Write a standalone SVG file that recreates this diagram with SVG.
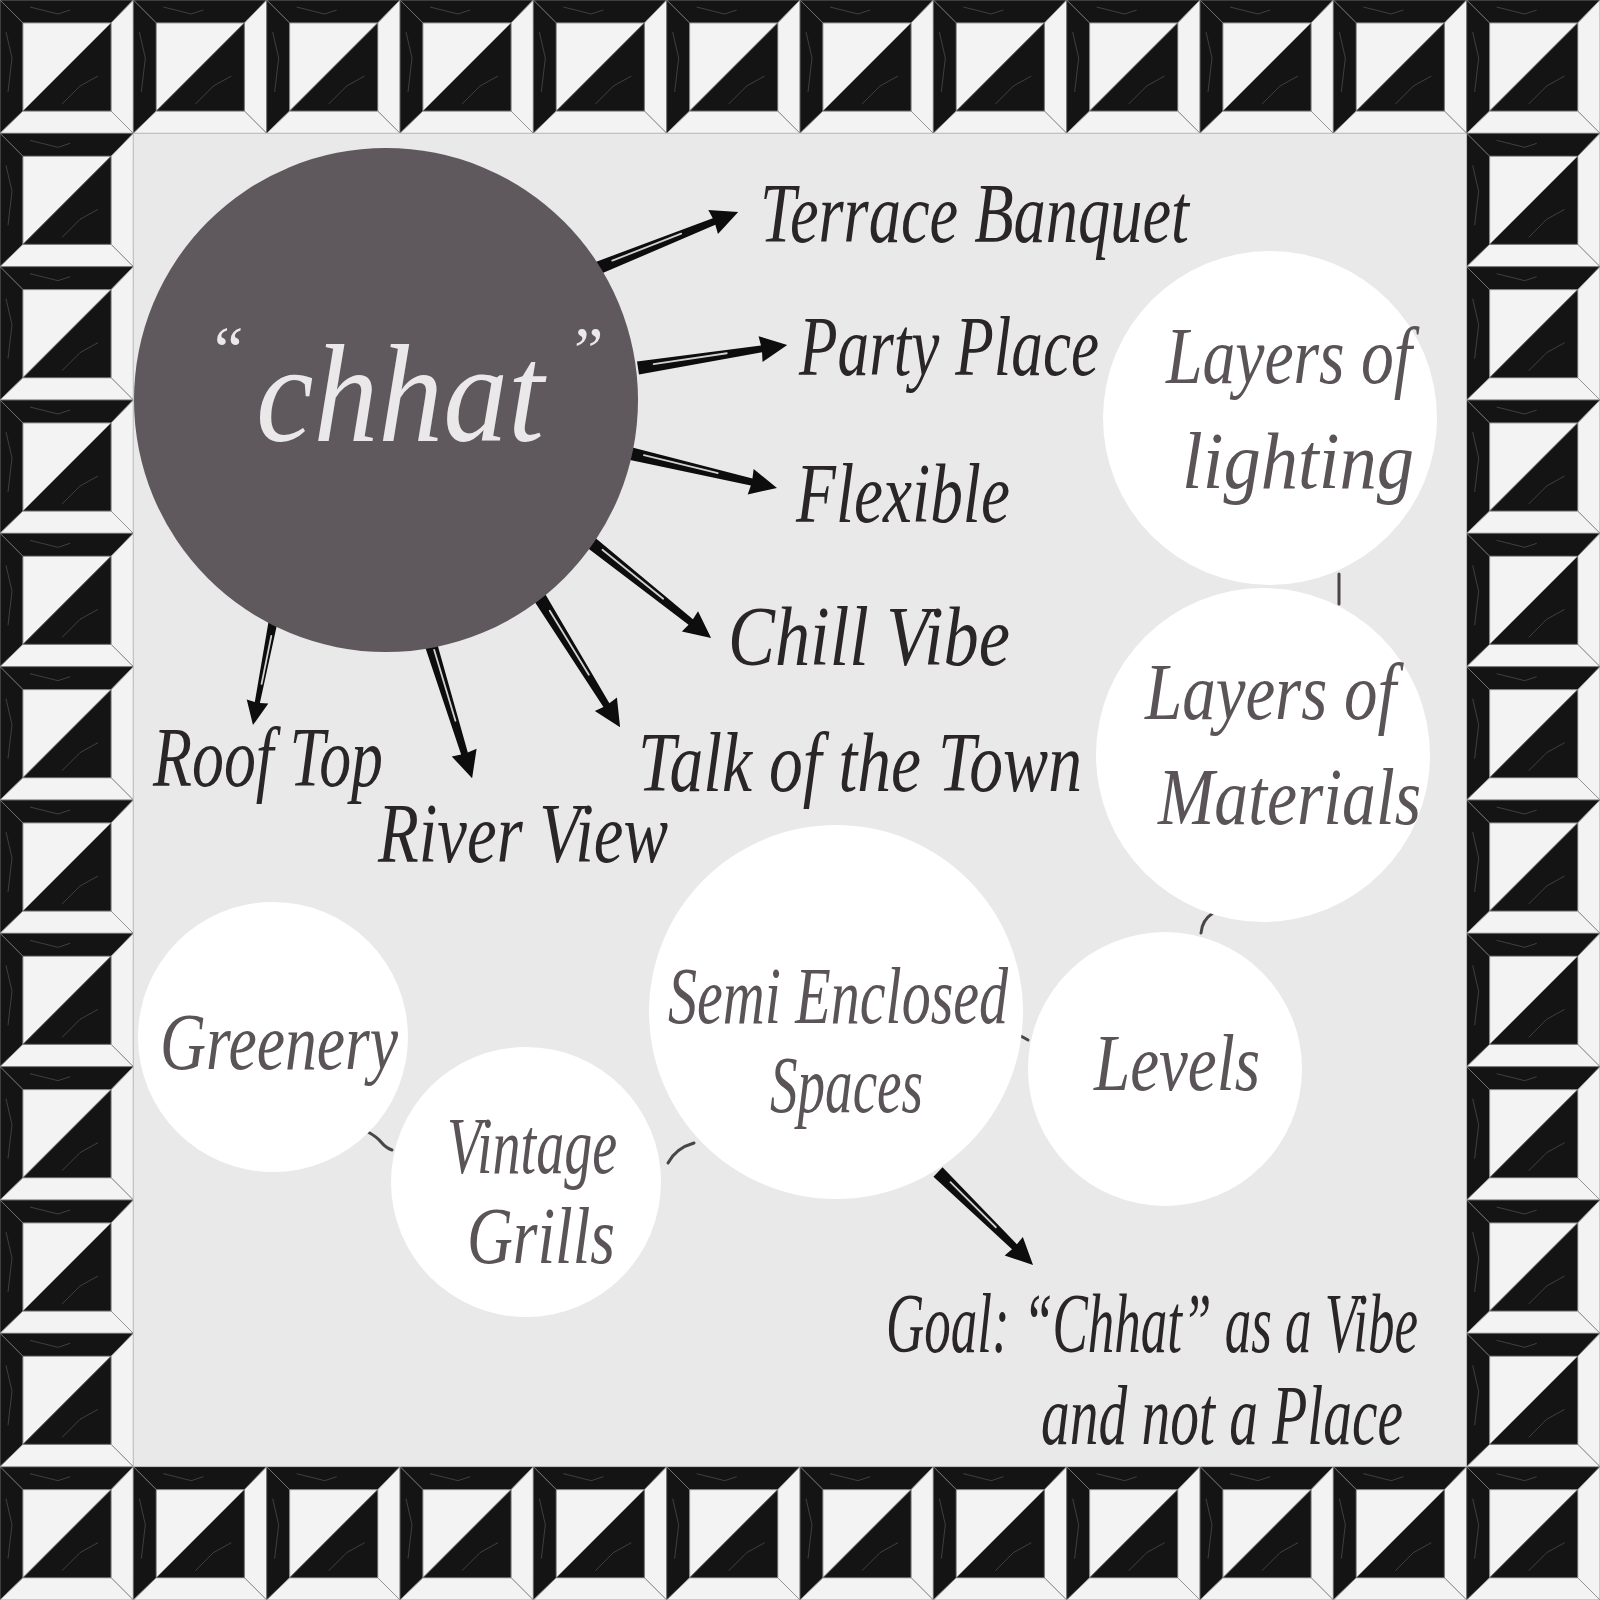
<svg xmlns="http://www.w3.org/2000/svg" width="1600" height="1600" viewBox="0 0 1600 1600">
<defs>
<style>
.lbl{font-family:"Liberation Serif","DejaVu Serif",serif;font-style:italic;font-size:84px;fill:#2a2628}
.cl{font-family:"Liberation Serif","DejaVu Serif",serif;font-style:italic;font-size:80px;fill:#5a5357}
.node{fill:#ffffff}
.tick{fill:none;stroke:#4a4547;stroke-width:3;stroke-linecap:round}
.arw{fill:#0d0d0d}
.hl{stroke:#d0d0d0;stroke-width:1.8;fill:none;stroke-linecap:round}
.blk{fill:#141415;stroke:#7d7d7d;stroke-width:0.8}
.wht{fill:#f3f3f3;stroke:#8a8a8a;stroke-width:0.8}
.vein{fill:none;stroke:#5a5a5a;stroke-width:0.9;opacity:0.7}
</style>
<g id="tile">
<polygon class="blk" points="0,0 133.33,0 111,23 23,23"/>
<polygon class="blk" points="0,0 23,23 23,111 0,133.33"/>
<polygon class="wht" points="133.33,0 133.33,133.33 111,111 111,23"/>
<polygon class="wht" points="0,133.33 23,111 111,111 133.33,133.33"/>
<polygon class="wht" points="23,23 111,23 23,111"/>
<polygon class="blk" points="111,23 111,111 23,111"/>
<path class="vein" d="M6,32 L12,58 L8,92"/>
<path class="vein" d="M62,104 L80,86 L98,76"/>
<path class="vein" d="M30,7 L58,14 L70,10"/>
</g>
</defs>

<rect x="0" y="0" width="1600" height="1600" fill="#111"/>
<g id="border">
<use href="#tile" x="0" y="0"/><use href="#tile" x="133.33" y="0"/><use href="#tile" x="266.67" y="0"/><use href="#tile" x="400" y="0"/><use href="#tile" x="533.33" y="0"/><use href="#tile" x="666.67" y="0"/><use href="#tile" x="800" y="0"/><use href="#tile" x="933.33" y="0"/><use href="#tile" x="1066.67" y="0"/><use href="#tile" x="1200" y="0"/><use href="#tile" x="1333.33" y="0"/><use href="#tile" x="1466.67" y="0"/>
<use href="#tile" x="0" y="1466.67"/><use href="#tile" x="133.33" y="1466.67"/><use href="#tile" x="266.67" y="1466.67"/><use href="#tile" x="400" y="1466.67"/><use href="#tile" x="533.33" y="1466.67"/><use href="#tile" x="666.67" y="1466.67"/><use href="#tile" x="800" y="1466.67"/><use href="#tile" x="933.33" y="1466.67"/><use href="#tile" x="1066.67" y="1466.67"/><use href="#tile" x="1200" y="1466.67"/><use href="#tile" x="1333.33" y="1466.67"/><use href="#tile" x="1466.67" y="1466.67"/>
<use href="#tile" x="0" y="133.33"/><use href="#tile" x="0" y="266.67"/><use href="#tile" x="0" y="400"/><use href="#tile" x="0" y="533.33"/><use href="#tile" x="0" y="666.67"/><use href="#tile" x="0" y="800"/><use href="#tile" x="0" y="933.33"/><use href="#tile" x="0" y="1066.67"/><use href="#tile" x="0" y="1200"/><use href="#tile" x="0" y="1333.33"/>
<use href="#tile" x="1466.67" y="133.33"/><use href="#tile" x="1466.67" y="266.67"/><use href="#tile" x="1466.67" y="400"/><use href="#tile" x="1466.67" y="533.33"/><use href="#tile" x="1466.67" y="666.67"/><use href="#tile" x="1466.67" y="800"/><use href="#tile" x="1466.67" y="933.33"/><use href="#tile" x="1466.67" y="1066.67"/><use href="#tile" x="1466.67" y="1200"/><use href="#tile" x="1466.67" y="1333.33"/>
</g>

<rect x="133.33" y="133.33" width="1333.34" height="1333.34" fill="#eae9ea"/>

<g id="connectors">
<g class="arw" transform="translate(598,268) rotate(-21.8)"><path d="M0,-6.5 L125,-3.5 L124,-13 L151,0 L124,13 L125,3.5 L0,6.5Z"/><path class="hl" d="M16,-1.5 L90,-1"/></g>
<g class="arw" transform="translate(638,368) rotate(-8.8)"><path d="M0,-6.5 L125,-3.5 L124,-13 L151,0 L124,13 L125,3.5 L0,6.5Z"/><path class="hl" d="M16,-1.5 L90,-1"/></g>
<g class="arw" transform="translate(628,453) rotate(13.2)"><path d="M0,-6.5 L127,-3.5 L126,-13 L153,0 L126,13 L127,3.5 L0,6.5Z"/><path class="hl" d="M16,-1.5 L92,-1"/></g>
<g class="arw" transform="translate(589,541) rotate(38.5)"><path d="M0,-6.5 L130,-3.5 L129,-13 L156,0 L129,13 L130,3.5 L0,6.5Z"/><path class="hl" d="M16,-1.5 L94,-1"/></g>
<g class="arw" transform="translate(540,598) rotate(58.2)"><path d="M0,-6.5 L126,-3.5 L125,-13 L152,0 L125,13 L126,3.5 L0,6.5Z"/><path class="hl" d="M16,-1.5 L91,-1"/></g>
<g class="arw" transform="translate(428,635) rotate(72.9)"><path d="M0,-6.5 L124,-3.5 L123,-13 L150,0 L123,13 L124,3.5 L0,6.5Z"/><path class="hl" d="M16,-1.5 L90,-1"/></g>
<g class="arw" transform="translate(273,622) rotate(101)"><path d="M0,-4.5 L82,-2.6 L81,-11 L105,0 L81,11 L82,2.6 L0,4.5Z"/><path class="hl" d="M14,-1 L63,-0.6"/></g>
<g class="arw" transform="translate(938,1172) rotate(44.4)"><path d="M0,-6.5 L107,-3.5 L106,-13 L133,0 L106,13 L107,3.5 L0,6.5Z"/><path class="hl" d="M16,-1.5 L80,-1"/></g>
<path class="tick" d="M1339,574 L1339,604"/>
<path class="tick" d="M1213,913 Q1202,920 1201,933"/>
<path class="tick" d="M1019,1035 L1028,1040"/>
<path class="tick" d="M368,1132 Q377,1137 381,1142 Q386,1148 392,1150"/>
<path class="tick" d="M668,1163 Q676,1148 694,1143"/>
</g>

<g id="node-chhat">
<circle cx="386" cy="400" r="252" fill="#5f585d"/>
<text x="214" y="372" font-family="Liberation Serif, serif" font-size="66" fill="#ebe8ea">“</text>
<text x="256" y="441" font-family="Liberation Serif, serif" font-style="italic" font-size="140" fill="#ebe8ea" textLength="288" lengthAdjust="spacingAndGlyphs">chhat</text>
<text x="574" y="372" font-family="Liberation Serif, serif" font-size="66" fill="#ebe8ea">”</text>
</g>

<g id="node-terrace"><text class="lbl" x="760" y="242" textLength="429" lengthAdjust="spacingAndGlyphs">Terrace Banquet</text></g>
<g id="node-party"><text class="lbl" x="799" y="375" font-size="68" textLength="300" lengthAdjust="spacingAndGlyphs">Party Place</text></g>
<g id="node-flexible"><text class="lbl" x="796" y="522" textLength="214" lengthAdjust="spacingAndGlyphs">Flexible</text></g>
<g id="node-chill"><text class="lbl" x="728" y="665" textLength="282" lengthAdjust="spacingAndGlyphs">Chill Vibe</text></g>
<g id="node-talk"><text class="lbl" x="638" y="791" font-size="78" textLength="444" lengthAdjust="spacingAndGlyphs">Talk of the Town</text></g>
<g id="node-roof"><text class="lbl" x="153" y="786" textLength="230" lengthAdjust="spacingAndGlyphs">Roof Top</text></g>
<g id="node-river"><text class="lbl" x="378" y="862" textLength="290" lengthAdjust="spacingAndGlyphs">River View</text></g>

<g id="node-lighting">
<circle class="node" cx="1270" cy="418" r="167"/>
<text class="cl" x="1166" y="383" textLength="246" lengthAdjust="spacingAndGlyphs">Layers of</text>
<text class="cl" x="1182" y="488" textLength="232" lengthAdjust="spacingAndGlyphs">lighting</text>
</g>
<g id="node-materials">
<circle class="node" cx="1263" cy="755" r="167"/>
<text class="cl" x="1145" y="719" textLength="251" lengthAdjust="spacingAndGlyphs">Layers of</text>
<text class="cl" x="1158" y="824" textLength="263" lengthAdjust="spacingAndGlyphs">Materials</text>
</g>
<g id="node-levels">
<circle class="node" cx="1165" cy="1069" r="137"/>
<text class="cl" x="1094" y="1090" textLength="166" lengthAdjust="spacingAndGlyphs">Levels</text>
</g>
<g id="node-semi">
<circle class="node" cx="836" cy="1012" r="187"/>
<text class="cl" x="668" y="1023" textLength="340" lengthAdjust="spacingAndGlyphs">Semi Enclosed</text>
<text class="cl" x="770" y="1112" textLength="153" lengthAdjust="spacingAndGlyphs">Spaces</text>
</g>
<g id="node-greenery">
<circle class="node" cx="273" cy="1037" r="135"/>
<text class="cl" x="160" y="1069" textLength="238" lengthAdjust="spacingAndGlyphs">Greenery</text>
</g>
<g id="node-vintage">
<circle class="node" cx="526" cy="1182" r="135"/>
<text class="cl" x="447" y="1173" textLength="170" lengthAdjust="spacingAndGlyphs">Vintage</text>
<text class="cl" x="467" y="1263" textLength="148" lengthAdjust="spacingAndGlyphs">Grills</text>
</g>
<g id="node-goal">
<text class="lbl" x="886" y="1352" font-size="68" textLength="532" lengthAdjust="spacingAndGlyphs">Goal: “Chhat” as a Vibe</text>
<text class="lbl" x="1041" y="1444" font-size="70" textLength="362" lengthAdjust="spacingAndGlyphs">and not a Place</text>
</g>
</svg>
